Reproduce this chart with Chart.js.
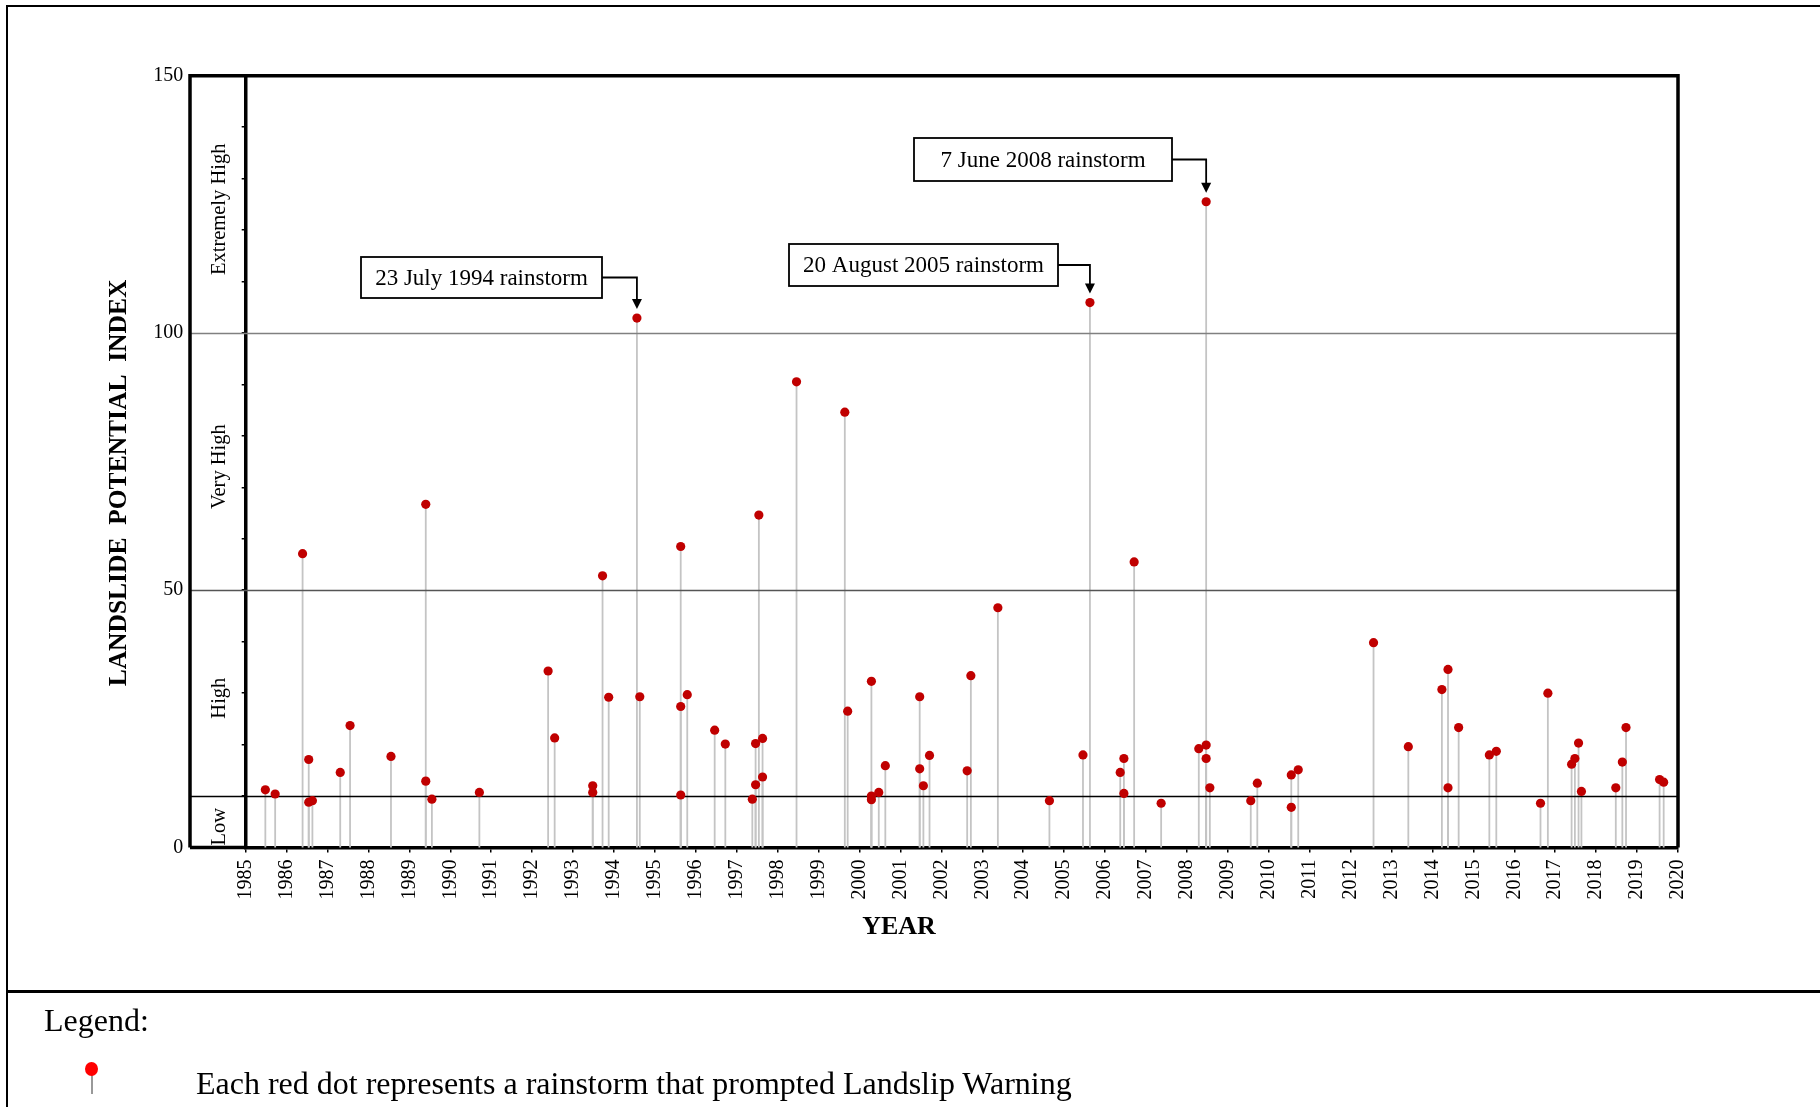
<!DOCTYPE html>
<html>
<head>
<meta charset="utf-8">
<script src="https://cdn.jsdelivr.net/npm/chart.js@4.4.0/dist/chart.umd.min.js"></script>
<style>
  html, body { margin: 0; padding: 0; background: #fff; }
  #wrap { position: relative; width: 1820px; height: 1107px; overflow: hidden; font-family: 'Liberation Serif', 'Times New Roman', serif; }
  #frame { position: absolute; left: 6px; top: 5px; right: -10px; bottom: -10px; border-left: 2px solid #000; border-top: 2px solid #000; }
  #sep { position: absolute; left: 6px; right: 0; top: 990px; height: 3px; background: #000; }
  #chart { position: absolute; left: 0; top: 0; }
  .leg { position: absolute; font-size: 32px; line-height: 36px; color: #000; white-space: nowrap; }
  #legDot { position: absolute; left: 85px; top: 1062px; width: 13px; height: 14px; border-radius: 50%; background: #ff0000; }
  #legStem { position: absolute; left: 91px; top: 1074px; width: 2px; height: 20px; background: #999; }
</style>
</head>
<body>
<div id="wrap">
  <div id="frame"></div>
  <div id="sep"></div>
  <canvas id="chart" width="1820" height="1107"></canvas>
  <div class="leg" style="left:44px; top:1002px;">Legend:</div>
  <div id="legStem"></div>
  <div id="legDot"></div>
  <div class="leg" style="left:196px; top:1065px;">Each red dot represents a rainstorm that prompted Landslip Warning</div>
</div>
<script>
// rainstorms that prompted a Landslip Warning (decimal year, landslide potential index)
const eventYears = [1985.48, 1985.72, 1986.39, 1986.54, 1986.54, 1986.63,
  1987.31, 1987.55, 1988.55, 1989.40, 1989.40, 1989.55, 1990.71,
  1992.39, 1992.55, 1993.48, 1993.48, 1993.72, 1993.87,
  1994.56, 1994.63, 1995.63, 1995.63, 1995.63, 1995.79,
  1996.46, 1996.72, 1997.38, 1997.46, 1997.46, 1997.54, 1997.63, 1997.63,
  1998.46, 1999.64, 1999.71, 2000.29, 2000.29, 2000.29, 2000.47, 2000.63,
  2001.47, 2001.47, 2001.56, 2001.71, 2002.63, 2002.72, 2003.38, 2004.64,
  2005.46, 2005.63, 2006.37, 2006.46, 2006.46, 2006.71, 2007.37,
  2008.29, 2008.47, 2008.47, 2008.47, 2008.56,
  2009.56, 2009.72, 2010.55, 2010.55, 2010.72,
  2012.56, 2013.41, 2014.23, 2014.38, 2014.38, 2014.64,
  2015.39, 2015.56, 2016.64, 2016.82,
  2017.40, 2017.48, 2017.57, 2017.64,
  2018.48, 2018.64, 2018.73, 2019.55, 2019.65];

const lpiValues = [11.2, 10.4, 57.1, 17.1, 8.8, 9.1,
  14.6, 23.7, 17.7, 66.7, 12.9, 9.4, 10.7,
  34.3, 21.3, 12.0, 10.7, 52.8, 29.2,
  102.9, 29.3, 58.5, 27.4, 10.2, 29.7,
  22.8, 20.1, 9.4, 20.2, 12.2, 64.6, 21.2, 13.7,
  90.5, 84.6, 26.5, 32.3, 10.0, 9.3, 10.7, 15.9,
  29.3, 15.3, 12.0, 17.9, 14.9, 33.4, 46.6, 9.1,
  18.0, 105.9, 14.6, 17.3, 10.5, 55.5, 8.6,
  19.2, 19.9, 17.3, 125.5, 11.6,
  9.1, 12.5, 14.1, 7.8, 15.1,
  39.8, 19.6, 30.7, 34.6, 11.6, 23.3,
  18.0, 18.7, 8.6, 30.0,
  16.2, 17.3, 20.3, 10.9,
  11.6, 16.6, 23.3, 13.2, 12.7];

const yearTicks = [1985, 1986, 1987, 1988, 1989, 1990, 1991, 1992, 1993, 1994,
  1995, 1996, 1997, 1998, 1999, 2000, 2001, 2002, 2003, 2004,
  2005, 2006, 2007, 2008, 2009, 2010, 2011, 2012, 2013, 2014,
  2015, 2016, 2017, 2018, 2019, 2020];
const labelledIndexTicks = [0, 50, 100, 150];

const levelNames = ['Low', 'High', 'Very High', 'Extremely High'];
const levelBounds = [0, 10, 50, 100, 150];

const noteTexts = ['23 July 1994 rainstorm', '20 August 2005 rainstorm', '7 June 2008 rainstorm'];
const noteYears = [1994.56, 2005.63, 2008.47];
const noteValues = [102.9, 105.9, 125.5];

const serif = "'Liberation Serif', 'Times New Roman', serif";

// box placement for the call-outs
const noteBoxes = [
  {x: 361, y: 257, w: 241, h: 41},
  {x: 789, y: 244, w: 269, h: 42},
  {x: 914, y: 138, w: 258, h: 43}
];

const lineColours = {10: '#000000', 50: '#555555', 100: '#808080'};

const decorPlugin = {
  id: 'decor',
  beforeDatasetsDraw: (chart) => {
    const ctx = chart.ctx;
    const xs = chart.scales.x, ys = chart.scales.y;
    const area = chart.chartArea;
    const outerLeft = 190;
    ctx.save();

    // stems
    ctx.strokeStyle = '#c4c4c4';
    ctx.lineWidth = 1.8;
    for (let i = 0; i < eventYears.length; i++) {
      const px = xs.getPixelForValue(eventYears[i]);
      ctx.beginPath();
      ctx.moveTo(px, ys.getPixelForValue(lpiValues[i]));
      ctx.lineTo(px, ys.getPixelForValue(0));
      ctx.stroke();
    }

    // level boundaries
    for (let i = 1; i < levelBounds.length - 1; i++) {
      const v = levelBounds[i];
      const py = Math.round(ys.getPixelForValue(v)) + 0.5;
      ctx.strokeStyle = lineColours[v];
      ctx.lineWidth = 1.5;
      ctx.beginPath();
      ctx.moveTo(outerLeft, py);
      ctx.lineTo(area.right, py);
      ctx.stroke();
    }

    // box round the plot
    ctx.strokeStyle = '#000';
    ctx.lineWidth = 3.5;
    ctx.beginPath();
    ctx.moveTo(outerLeft, area.bottom);
    ctx.lineTo(outerLeft, area.top);
    ctx.lineTo(area.right, area.top);
    ctx.lineTo(area.right, area.bottom);
    ctx.moveTo(outerLeft, area.bottom);
    ctx.lineTo(area.left, area.bottom);
    ctx.stroke();

    // level names
    ctx.fillStyle = '#000';
    ctx.font = '20.5px ' + serif;
    ctx.textAlign = 'center';
    ctx.textBaseline = 'middle';
    for (let i = 0; i < levelNames.length; i++) {
      const mid = (levelBounds[i] + levelBounds[i + 1]) / 2;
      ctx.save();
      ctx.translate(220, ys.getPixelForValue(mid) + 5);
      ctx.rotate(-Math.PI / 2);
      ctx.fillText(levelNames[i], 0, 0);
      ctx.restore();
    }

    // axis titles
    ctx.font = 'bold 26px ' + serif;
    ctx.fillText('YEAR', 899, 927);
    ctx.save();
    ctx.translate(119, 483);
    ctx.rotate(-Math.PI / 2);
    ctx.font = 'bold 25.5px ' + serif;
    ctx.fillText('LANDSLIDE  POTENTIAL  INDEX', 0, 0);
    ctx.restore();

    ctx.restore();
  },
  afterDatasetsDraw: (chart) => {
    const ctx = chart.ctx;
    const xs = chart.scales.x, ys = chart.scales.y;
    ctx.save();
    for (let i = 0; i < noteTexts.length; i++) {
      const b = noteBoxes[i];
      const px = xs.getPixelForValue(noteYears[i]);
      const py = ys.getPixelForValue(noteValues[i]);
      const tip = py - 9;
      const midY = b.y + b.h / 2;
      ctx.fillStyle = '#fff';
      ctx.fillRect(b.x, b.y, b.w, b.h);
      ctx.strokeStyle = '#000';
      ctx.lineWidth = 1.8;
      ctx.strokeRect(b.x, b.y, b.w, b.h);
      ctx.fillStyle = '#000';
      ctx.font = '23px ' + serif;
      ctx.textAlign = 'center';
      ctx.textBaseline = 'middle';
      ctx.fillText(noteTexts[i], b.x + b.w / 2, midY + 1);
      ctx.beginPath();
      ctx.moveTo(b.x + b.w, midY);
      ctx.lineTo(px, midY);
      ctx.lineTo(px, tip - 9);
      ctx.stroke();
      ctx.beginPath();
      ctx.moveTo(px - 5, tip - 10);
      ctx.lineTo(px + 5, tip - 10);
      ctx.lineTo(px, tip);
      ctx.closePath();
      ctx.fill();
    }
    ctx.restore();
  }
};

const points = eventYears.map((yr, i) => ({x: yr, y: lpiValues[i]}));

new Chart(document.getElementById('chart').getContext('2d'), {
  type: 'scatter',
  plugins: [decorPlugin],
  data: {
    datasets: [{
      data: points,
      backgroundColor: '#c00000',
      borderWidth: 0,
      pointRadius: 4.6,
      pointHoverRadius: 4.6
    }]
  },
  options: {
    responsive: false,
    animation: false,
    events: [],
    layout: { padding: { left: 0, top: 75.7, right: 142, bottom: 159.5 } },
    plugins: { legend: { display: false }, tooltip: { enabled: false } },
    scales: {
      x: {
        type: 'linear',
        min: 1985,
        max: 2020,
        afterBuildTicks: (scale) => { scale.ticks = yearTicks.map(v => ({value: v})); },
        afterFit: (scale) => { scale.height = 100; },
        ticks: {
          autoSkip: false,
          minRotation: 90,
          maxRotation: 90,
          padding: 7,
          color: '#000',
          font: { family: serif, size: 20 },
          callback: (v) => String(v)
        },
        grid: { drawOnChartArea: false, drawTicks: true, tickLength: 5, color: '#000', lineWidth: 1.5 },
        border: { display: true, color: '#000', width: 3.5 }
      },
      y: {
        min: 0,
        max: 150,
        afterFit: (scale) => { scale.width = 245.7; },
        ticks: {
          stepSize: 10,
          padding: 58.5,
          color: '#000',
          font: { family: serif, size: 20 },
          callback: (v) => labelledIndexTicks.includes(v) ? String(v) : ''
        },
        grid: { drawOnChartArea: false, drawTicks: true, tickLength: 4, color: '#000', lineWidth: 1.5 },
        border: { display: true, color: '#000', width: 3.5 }
      }
    }
  }
});
</script>
</body>
</html>
